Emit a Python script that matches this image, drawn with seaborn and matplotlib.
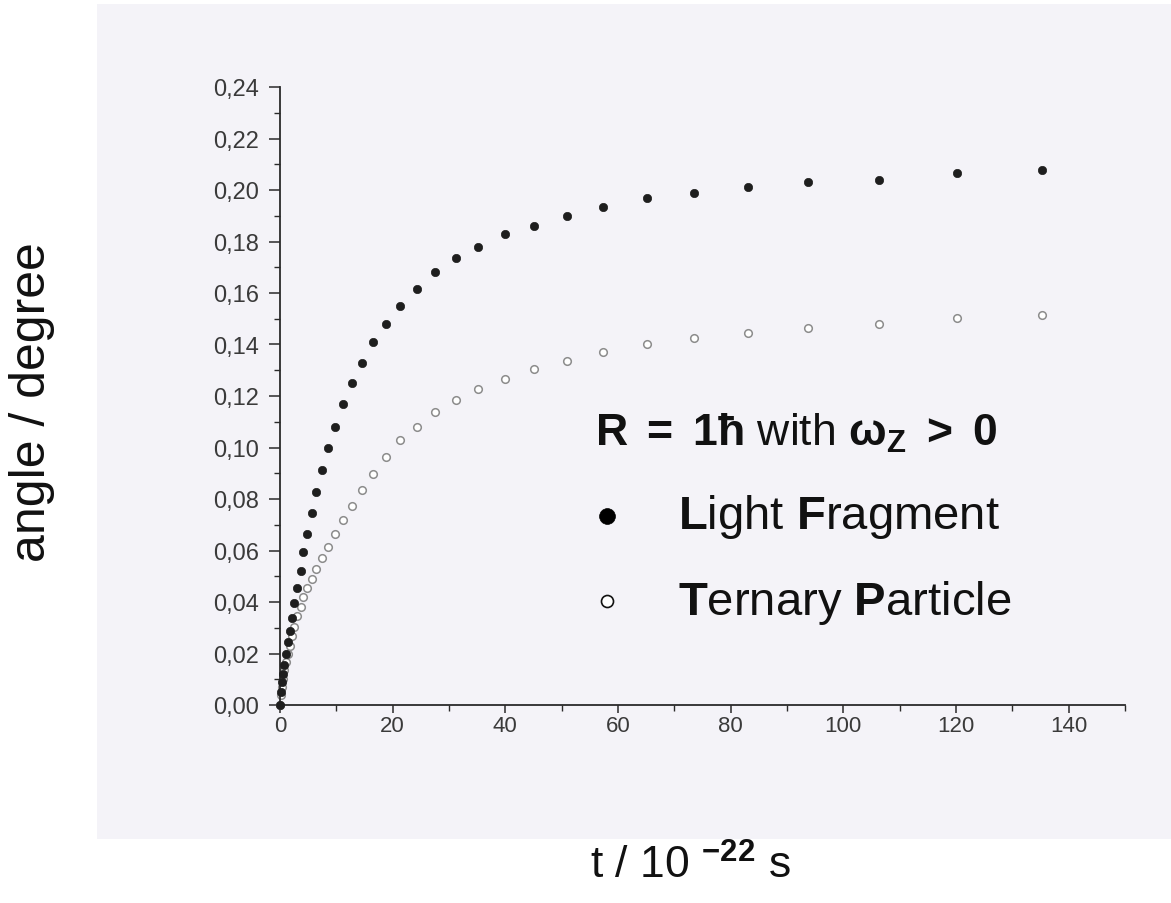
import matplotlib
matplotlib.use("Agg")
import matplotlib.pyplot as plt
import matplotlib.ticker as mticker
from matplotlib.patches import Rectangle
import seaborn as sns
import pandas as pd

# ---- data ----
time = [0, 0.15, 0.3, 0.5, 0.71, 1.06, 1.42, 1.77, 2.13, 2.48,
        3.02, 3.64, 4.17, 4.79, 5.68, 6.39, 7.45, 8.52, 9.76, 11.18,
        12.78, 14.55, 16.5, 18.8, 21.3, 24.3, 27.5, 31.2, 35.1, 39.9,
        45.1, 50.9, 57.3, 65.1, 73.5, 83.1, 93.7, 106.3, 120.1, 135.2]
light_fragment = [0, 0.005, 0.009, 0.012, 0.0155, 0.0198, 0.0245, 0.0287, 0.0338, 0.0396,
                  0.0454, 0.052, 0.0594, 0.0664, 0.0746, 0.0827, 0.0913, 0.0998, 0.108, 0.117,
                  0.125, 0.133, 0.141, 0.148, 0.155, 0.1616, 0.168, 0.1736, 0.178, 0.183,
                  0.186, 0.190, 0.1934, 0.197, 0.199, 0.201, 0.203, 0.204, 0.2066, 0.2078]
ternary_particle = [0, 0.004, 0.007, 0.010, 0.0136, 0.0167, 0.0198, 0.0229, 0.0268, 0.0303,
                    0.0346, 0.038, 0.0419, 0.0454, 0.0489, 0.0528, 0.0571, 0.0614, 0.0664, 0.0718,
                    0.0773, 0.0835, 0.0897, 0.0963, 0.103, 0.1078, 0.1136, 0.1184, 0.1227, 0.1266,
                    0.1305, 0.1336, 0.1371, 0.1402, 0.1425, 0.1445, 0.1464, 0.148, 0.1503, 0.1515]
x_ticks = [0, 20, 40, 60, 80, 100, 120, 140]
y_ticks = [0.00, 0.02, 0.04, 0.06, 0.08, 0.10, 0.12, 0.14, 0.16, 0.18, 0.20, 0.22, 0.24]
series_labels = [r"$\mathbf{L}$ight $\mathbf{F}$ragment", r"$\mathbf{T}$ernary $\mathbf{P}$article"]
legend_title = r"$\mathbf{R}$ $\mathbf{=}$ $\mathbf{1ħ}$ with $\mathbf{ω_{Z}}$ $\mathbf{>}$ $\mathbf{0}$"

df_lf = pd.DataFrame({"t": time, "angle": light_fragment})
df_tp = pd.DataFrame({"t": time, "angle": ternary_particle})

sns.set_style("white")
plt.rcParams["font.family"] = ["Liberation Sans", "DejaVu Sans"]
plt.rcParams["mathtext.fontset"] = "custom"
plt.rcParams["mathtext.rm"] = "Liberation Sans"
plt.rcParams["mathtext.it"] = "Liberation Sans:italic"
plt.rcParams["mathtext.bf"] = "Liberation Sans:bold"

W, H = 1171, 904
fig = plt.figure(figsize=(W / 100, H / 100), dpi=100)
fig.patch.set_facecolor("white")

# scanned page background
bg = Rectangle((97 / W, (H - 840) / H), 1 - 97 / W, (840 - 5) / H,
               transform=fig.transFigure, facecolor="#f4f3f8",
               edgecolor="none", zorder=-10)
fig.add_artist(bg)

ax_left, ax_right = 280 / W, 1125 / W
ax_bottom, ax_top = (H - 706) / H, (H - 88) / H
ax = fig.add_axes([ax_left, ax_bottom, ax_right - ax_left, ax_top - ax_bottom])
ax.set_zorder(5)
ax.patch.set_alpha(0)

sns.scatterplot(data=df_lf, x="t", y="angle", ax=ax, marker="o", s=36,
                color="#1e1e1e", edgecolor="#1e1e1e", linewidth=0.5,
                label=series_labels[0], clip_on=False, zorder=3)
sns.scatterplot(data=df_tp, x="t", y="angle", ax=ax, marker="o", s=30,
                facecolor="white", edgecolor="#8c8c8c", linewidth=1.1,
                label=series_labels[1], clip_on=False, zorder=2)

ax.set_xlim(0, 150)
ax.set_ylim(0, 0.24)
ax.set_xticks(x_ticks)
ax.xaxis.set_minor_locator(mticker.FixedLocator([10, 30, 50, 70, 90, 110, 130, 150]))
ax.set_yticks(y_ticks)
ax.yaxis.set_minor_locator(mticker.MultipleLocator(0.01))
ax.set_yticklabels([f"{v:.2f}".replace(".", ",") for v in y_ticks])
ax.set_xticklabels([str(v) for v in x_ticks])

for s in ["top", "right"]:
    ax.spines[s].set_visible(False)
for s in ["left", "bottom"]:
    ax.spines[s].set_color("#2a2a2a")
    ax.spines[s].set_linewidth(1.3)

ax.tick_params(axis="both", which="both", bottom=True, left=True, top=False, right=False)
ax.tick_params(axis="y", which="major", direction="out", length=8, width=1.1,
               color="#2a2a2a", labelsize=17, labelcolor="#3a3a3a", pad=7)
ax.tick_params(axis="x", which="major", direction="out", length=6, width=1.1,
               color="#2a2a2a", labelsize=16, labelcolor="#3a3a3a", pad=1)
ax.tick_params(axis="both", which="minor", direction="out", length=4.5, width=1.0,
               color="#2a2a2a")

ax.set_xlabel(r"t / 10 $^{\mathbf{-22}}$ s", fontsize=32, color="#111111")
ax.xaxis.set_label_coords((690 - 280) / 845, (706 - 845) / 618)
ax.set_ylabel("angle / degree", fontsize=36, color="#111111")
ax.yaxis.set_label_coords((55 - 280) / 845, (706 - 402) / 618)

leg = ax.legend(loc="upper left", bbox_to_anchor=((595 - 280) / 845, (706 - 412) / 618),
                frameon=False, fontsize=34, title=legend_title, title_fontsize=32,
                alignment="left", handlelength=0.5, handletextpad=1.25,
                labelspacing=0.8, borderpad=0, borderaxespad=0)
handles = leg.legend_handles
handles[0].set_sizes([130])
handles[0].set_facecolor("#000000")
handles[0].set_edgecolor("#000000")
handles[1].set_sizes([75])
handles[1].set_edgecolor("#111111")
handles[1].set_linewidth(1.2)
for t in leg.get_texts():
    t.set_color("#111111")
leg.get_title().set_color("#111111")

fig.savefig("out.png", dpi=100)
